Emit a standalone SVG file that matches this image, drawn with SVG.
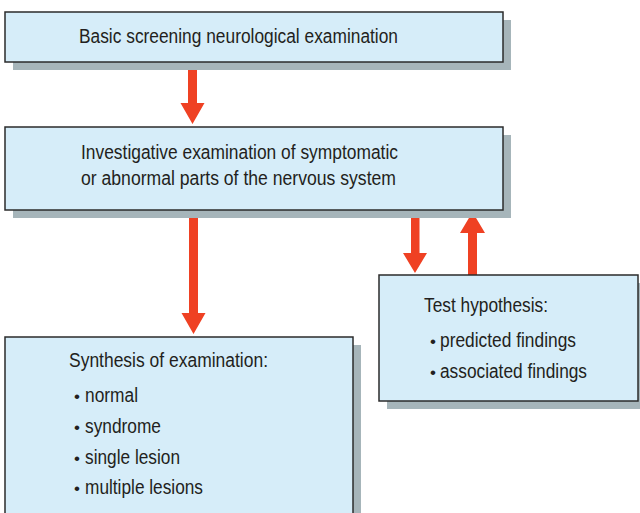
<svg xmlns="http://www.w3.org/2000/svg" width="640" height="513" viewBox="0 0 640 513">
  <style>
    .shadow { fill: #a6b5ba; }
    .box { fill: #d6edf9; stroke: #2b2b2b; stroke-width: 1.5; }
    .t { font-family: "Liberation Sans", Arial, sans-serif; font-size: 19.5px; fill: #231f20; }
    .b { font-family: "Liberation Sans", Arial, sans-serif; font-size: 17px; fill: #231f20; }
    .arrow { fill: #ef4123; }
  </style>
  <rect width="640" height="513" fill="#ffffff"/>

  <g id="connectors">
    <!-- basic -> investigative -->
    <path class="arrow" d="M188 62 H197 V103 H204.5 L192.5 124 L180.5 103 H188 Z"/>
    <!-- investigative -> synthesis -->
    <path class="arrow" d="M189 210 H198 V313 H205.5 L193.5 334 L181.5 313 H189 Z"/>
    <!-- investigative -> test hypothesis -->
    <path class="arrow" d="M411 210 H419.5 V253 H427 L415 273 L403 253 H411 Z"/>
    <!-- test hypothesis -> investigative -->
    <path class="arrow" d="M468 275 H477 V233 H485 L472.5 212 L460 233 H468 Z"/>
  </g>

  <g id="basic">
    <rect class="shadow" x="13" y="20" width="498" height="50"/>
    <rect class="box" x="5" y="12" width="498" height="50"/>
    <text class="t" x="79" y="43" textLength="319" lengthAdjust="spacingAndGlyphs">Basic screening neurological examination</text>
  </g>

  <g id="investigative">
    <rect class="shadow" x="13" y="135" width="498" height="83"/>
    <rect class="box" x="5" y="127" width="498" height="83"/>
    <text class="t" x="81" y="159" textLength="317" lengthAdjust="spacingAndGlyphs">Investigative examination of symptomatic</text>
    <text class="t" x="81" y="185" textLength="315" lengthAdjust="spacingAndGlyphs">or abnormal parts of the nervous system</text>
  </g>

  <g id="hypothesis">
    <rect class="shadow" x="387" y="283" width="260" height="126"/>
    <rect class="box" x="379" y="275" width="259" height="126"/>
    <text class="t" x="424" y="312" textLength="124" lengthAdjust="spacingAndGlyphs">Test hypothesis:</text>
    <text class="b" x="430" y="347">•</text>
    <text class="t" x="440" y="347" textLength="136" lengthAdjust="spacingAndGlyphs">predicted findings</text>
    <text class="b" x="430" y="378">•</text>
    <text class="t" x="440" y="378" textLength="147" lengthAdjust="spacingAndGlyphs">associated findings</text>
  </g>

  <g id="synthesis">
    <rect class="shadow" x="13" y="345" width="348" height="180"/>
    <rect class="box" x="5" y="337" width="348" height="190"/>
    <text class="t" x="69" y="367" textLength="199" lengthAdjust="spacingAndGlyphs">Synthesis of examination:</text>
    <text class="b" x="74" y="402">•</text>
    <text class="t" x="85" y="402" textLength="53" lengthAdjust="spacingAndGlyphs">normal</text>
    <text class="b" x="74" y="433">•</text>
    <text class="t" x="85" y="433" textLength="76" lengthAdjust="spacingAndGlyphs">syndrome</text>
    <text class="b" x="74" y="464">•</text>
    <text class="t" x="85" y="464" textLength="95" lengthAdjust="spacingAndGlyphs">single lesion</text>
    <text class="b" x="74" y="494">•</text>
    <text class="t" x="85" y="494" textLength="118" lengthAdjust="spacingAndGlyphs">multiple lesions</text>
  </g>
</svg>
